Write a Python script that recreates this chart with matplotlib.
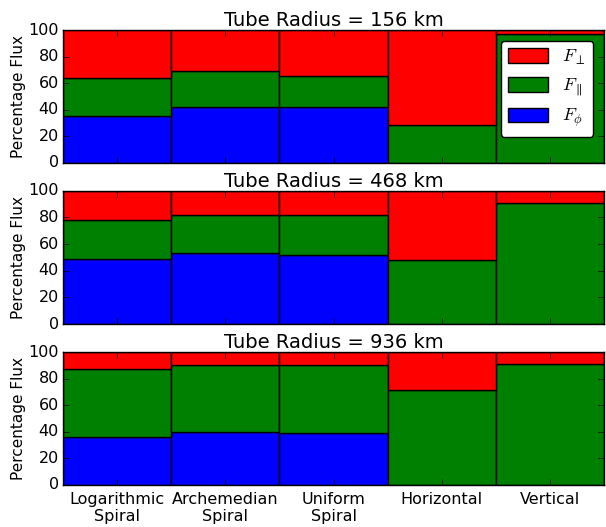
import numpy as np
import matplotlib
matplotlib.use('Agg')
import matplotlib.pyplot as plt

plt.style.use('classic')

categories = ['Logarithmic\nSpiral', 'Archemedian\nSpiral', 'Uniform\nSpiral', 'Horizontal', 'Vertical']
radii = [156, 468, 936]

# percentage flux per component, one row per tube radius
f_phi = [
    [35.0, 41.7, 42.0, 0.0, 0.0],
    [48.8, 53.0, 52.2, 0.0, 0.0],
    [35.7, 40.0, 39.2, 0.0, 0.0],
]
f_par = [
    [29.2, 27.1, 23.7, 28.2, 97.0],
    [29.2, 29.0, 30.0, 48.2, 90.5],
    [51.5, 50.2, 51.0, 71.2, 91.2],
]
f_perp = [
    [35.8, 31.2, 34.3, 71.8, 3.0],
    [22.0, 18.0, 17.8, 51.8, 9.5],
    [12.8, 9.8, 9.8, 28.8, 8.8],
]

fig = plt.figure(figsize=(6.06, 5.27), dpi=100)
fig.patch.set_facecolor('white')

x = np.arange(len(categories))
boxes = [(0.104, 0.691, 0.893, 0.252),
         (0.104, 0.385, 0.893, 0.253),
         (0.104, 0.080, 0.893, 0.252)]

for k, r in enumerate(radii):
    ax = fig.add_axes(boxes[k])
    phi = np.array(f_phi[k])
    par = np.array(f_par[k])
    perp = np.array(f_perp[k])
    b1 = ax.bar(x, phi, width=1.0, align='center', color='b', edgecolor='k')
    b2 = ax.bar(x, par, width=1.0, bottom=phi, align='center', color='g', edgecolor='k')
    b3 = ax.bar(x, perp, width=1.0, bottom=phi + par, align='center', color='r', edgecolor='k')
    ax.set_xlim(-0.5, 4.5)
    ax.set_ylim(0, 100)
    ax.set_yticks([0, 20, 40, 60, 80, 100])
    ax.set_xticks(x)
    ax.tick_params(axis='y', labelsize=11.5, pad=3)
    ax.tick_params(axis='x', labelsize=11.5, pad=5)
    if k == 2:
        ax.set_xticklabels(categories)
    else:
        ax.set_xticklabels([])
    ax.set_ylabel('Percentage Flux', fontsize=11, labelpad=2)
    ax.set_title('Tube Radius = %d km' % r, fontsize=14, pad=3)
    if k == 0:
        ax.legend([b3, b2, b1], [r'$F_\perp$', r'$F_\parallel$', r'$F_\phi$'],
                  loc='upper right', fancybox=True, fontsize=13,
                  handlelength=2.2, handleheight=0.9, labelspacing=0.5,
                  borderaxespad=0.6)

fig.savefig('out.png', dpi=100, facecolor='white')
